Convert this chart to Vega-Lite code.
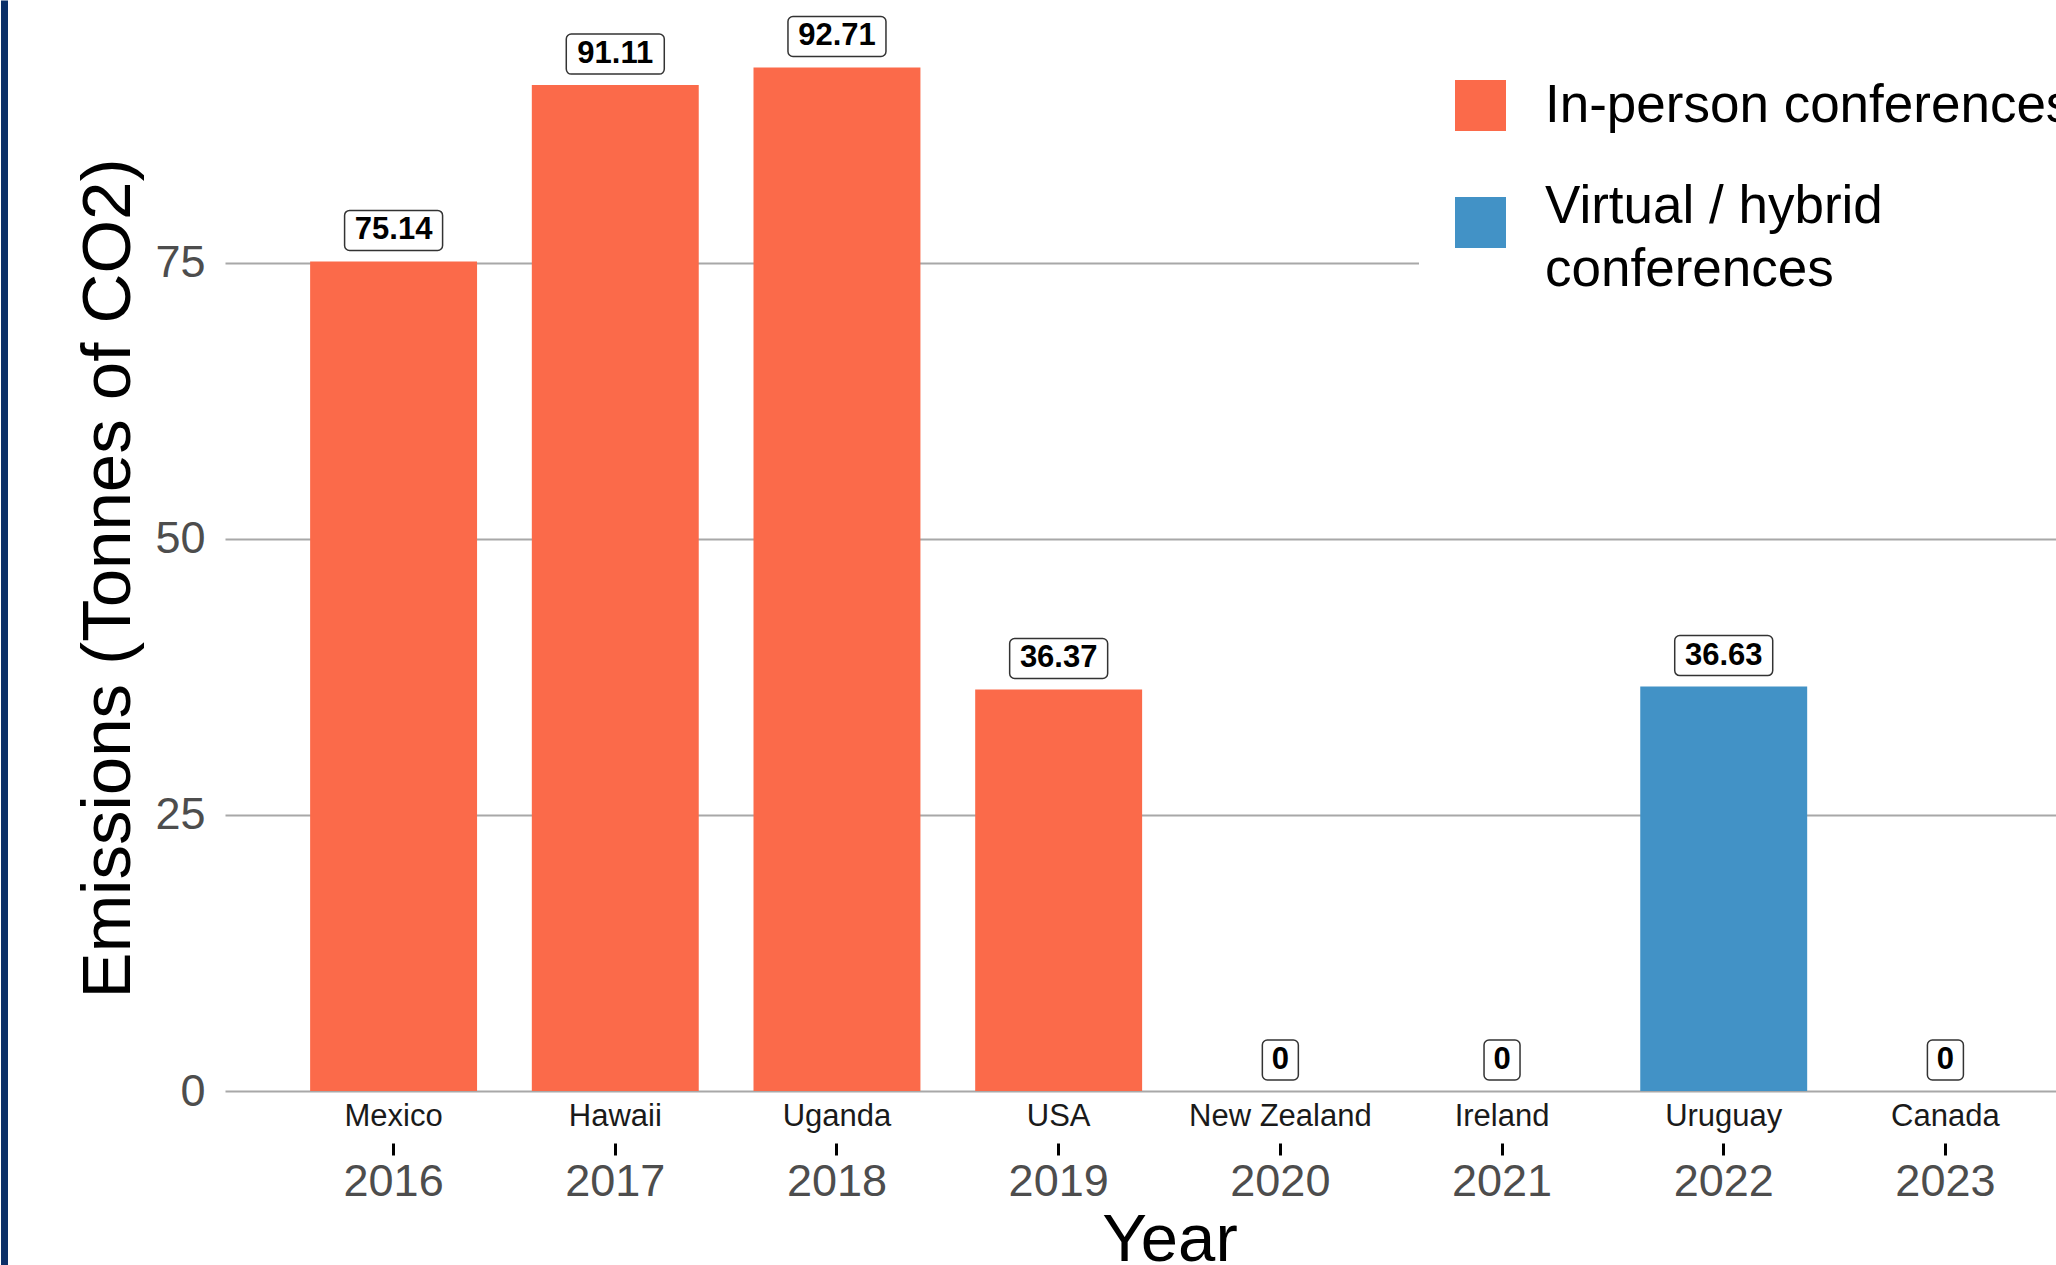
{
  "$schema": "https://vega.github.io/schema/vega-lite/v6.json",
  "width": 1831,
  "height": 1265,
  "autosize": {"type": "none"},
  "padding": {"left": 225, "top": 0, "right": 0, "bottom": 0},
  "background": "white",
  "data": {
    "values": [
      {"Year": "2016", "Country": "Mexico", "Emissions": 75.14, "Type": "In-person conferences"},
      {"Year": "2017", "Country": "Hawaii", "Emissions": 91.11, "Type": "In-person conferences"},
      {"Year": "2018", "Country": "Uganda", "Emissions": 92.71, "Type": "In-person conferences"},
      {"Year": "2019", "Country": "USA", "Emissions": 36.37, "Type": "In-person conferences"},
      {"Year": "2020", "Country": "New Zealand", "Emissions": 0, "Type": "Virtual / hybrid conferences"},
      {"Year": "2021", "Country": "Ireland", "Emissions": 0, "Type": "Virtual / hybrid conferences"},
      {"Year": "2022", "Country": "Uruguay", "Emissions": 36.63, "Type": "Virtual / hybrid conferences"},
      {"Year": "2023", "Country": "Canada", "Emissions": 0, "Type": "In-person conferences"}
    ]
  },
  "layer": [
    {
      "mark": {"type": "bar"},
      "encoding": {
        "x": {
          "field": "Year", "type": "nominal", "sort": null,
          "scale": {"type": "band", "paddingInner": 0.247, "paddingOuter": 0.384, "range": [0, 1889]},
          "axis": {
            "orient": "bottom", "offset": -122, "domain": false, "grid": false,
            "ticks": true, "tickSize": 12, "tickWidth": 3, "tickColor": "#000000",
            "labelFontSize": 45, "labelColor": "#4d4d4d", "labelPadding": 4, "labelAngle": 0,
            "title": "Year", "titleFontSize": 67, "titleColor": "#000000", "titleFontWeight": "normal",
            "titleY": 117, "titleBaseline": "alphabetic"
          }
        },
        "y": {
          "field": "Emissions", "type": "quantitative",
          "scale": {"domain": [-15.76, 98.82], "nice": false},
          "axis": {
            "values": [0, 25, 50, 75], "domain": false, "ticks": false, "tickSize": 0,
            "grid": true, "gridColor": "#a8a8a8", "gridWidth": 2,
            "labelFontSize": 45, "labelColor": "#4d4d4d", "labelPadding": 20,
            "title": "Emissions (Tonnes of CO2)", "titleFontSize": 69, "titleColor": "#000000",
            "titleFontWeight": "normal", "titleAngle": -90, "titleX": -117, "titleY": 578,
            "titleBaseline": "middle", "titleAlign": "center"
          }
        },
        "color": {
          "field": "Type", "type": "nominal",
          "scale": {"domain": ["In-person conferences", "Virtual / hybrid conferences"], "range": ["#FB6A4A", "#4292C6"]},
          "legend": {
            "orient": "none", "legendX": 1194, "legendY": 44, "title": null,
            "symbolType": "square", "symbolSize": 2601, "symbolStrokeWidth": 0, "symbolOpacity": 1,
            "labelFontSize": 53, "labelColor": "#000000", "labelOffset": 38, "labelLimit": 2000,
            "labelBaseline": {"expr": "datum.label == 'Virtual / hybrid conferences' ? 'alphabetic' : 'middle'"},
            "labelExpr": "datum.label == 'Virtual / hybrid conferences' ? ['Virtual / hybrid', 'conferences'] : datum.label",
            "fillColor": "white", "padding": 35, "rowPadding": 47
          }
        }
      }
    },
    {
      "transform": [{"filter": "datum.Emissions > 0"}],
      "mark": {"type": "bar", "width": 98, "yOffset": -51, "y2Offset": -11, "fill": "white", "stroke": "#333333", "strokeWidth": 1.5, "cornerRadius": 5},
      "encoding": {
        "x": {"field": "Year", "type": "nominal", "sort": null, "axis": null},
        "y": {"field": "Emissions", "type": "quantitative", "axis": null},
        "y2": {"field": "Emissions"}
      }
    },
    {
      "transform": [{"filter": "datum.Emissions == 0"}],
      "mark": {"type": "bar", "width": 36, "yOffset": -51, "y2Offset": -11, "fill": "white", "stroke": "#333333", "strokeWidth": 1.5, "cornerRadius": 5},
      "encoding": {
        "x": {"field": "Year", "type": "nominal", "sort": null, "axis": null},
        "y": {"field": "Emissions", "type": "quantitative", "axis": null},
        "y2": {"field": "Emissions"}
      }
    },
    {
      "mark": {"type": "text", "fontSize": 31, "fontWeight": "bold", "color": "#000000", "baseline": "middle", "yOffset": -31},
      "encoding": {
        "x": {"field": "Year", "type": "nominal", "sort": null, "axis": null},
        "y": {
          "field": "Emissions", "type": "quantitative",
          "axis": {"orient": "left", "offset": 221, "domain": true, "domainColor": "#0b3068", "domainWidth": 7, "labels": false, "ticks": false, "grid": false, "title": null}
        },
        "text": {"field": "Emissions", "type": "quantitative", "format": ".2~f"}
      }
    },
    {
      "mark": {"type": "text", "fontSize": 31, "color": "#1a1a1a", "baseline": "middle", "yOffset": 26},
      "encoding": {
        "x": {"field": "Year", "type": "nominal", "sort": null, "axis": null},
        "y": {"datum": 0, "type": "quantitative", "axis": null},
        "text": {"field": "Country", "type": "nominal"}
      }
    }
  ],
  "resolve": {"axis": {"x": "independent", "y": "independent"}},
  "config": {
    "view": {"stroke": null},
    "font": "Liberation Sans",
    "style": {"guide-label": {"lineHeight": 63}}
  }
}
